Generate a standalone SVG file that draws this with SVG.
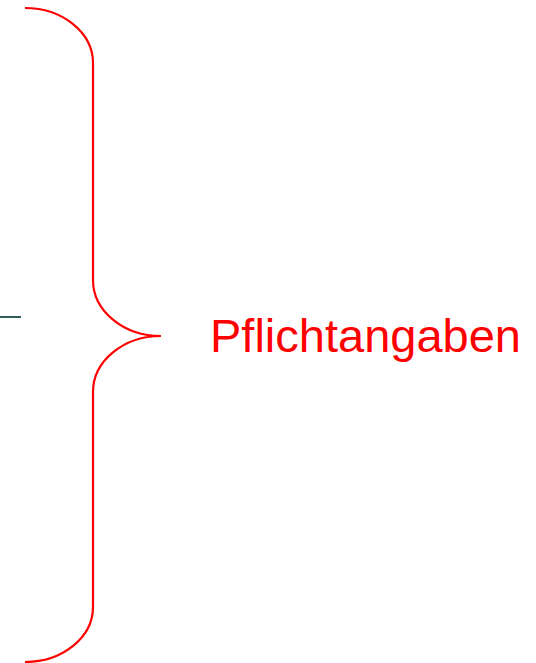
<svg xmlns="http://www.w3.org/2000/svg" width="536" height="663" viewBox="0 0 536 663">
<style>
.brace{fill:none;stroke:#FF0000;stroke-width:2.2}
.lbl{font-family:"Liberation Sans",Arial,sans-serif;font-size:47px;fill:#FF0000}
</style>
<rect width="536" height="663" fill="#FFFFFF"/>
<g id="connectors">
<line x1="0" y1="317" x2="21" y2="317" stroke="#2F5F5A" stroke-width="2"/>
</g>
<g id="brace">
<path class="brace" d="M25,8 A68,55 0 0 1 93,63 L93,280 A68,56 0 0 0 161,336 A68,56 0 0 0 93,392 L93,607 A68,55 0 0 1 25,662"/>
</g>
<g id="label">
<text class="lbl" x="210" y="352">Pflichtangaben</text>
</g>
</svg>
